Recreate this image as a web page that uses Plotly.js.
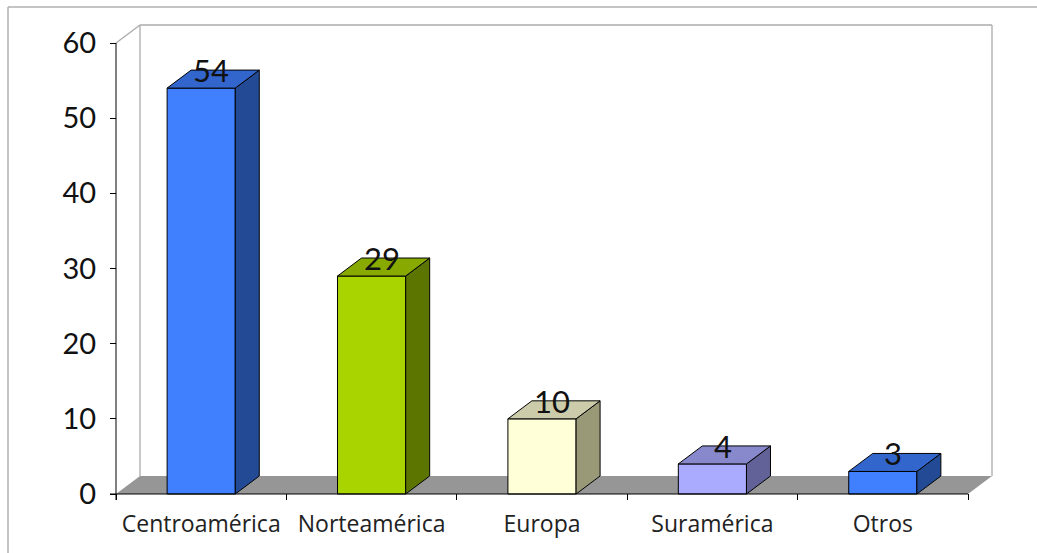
<!DOCTYPE html>
<html>
<head>
<meta charset="utf-8">
<script src="https://cdn.plot.ly/plotly-3.0.1.min.js"></script>
<style>html,body{margin:0;padding:0;background:#fff;}#chart{width:1037px;height:553px;}</style>
</head>
<body>
<div id="chart"></div>
<script>
// ---- data ----
const categories = ["Centroamérica", "Norteamérica", "Europa", "Suramérica", "Otros"];
const values = [54, 29, 10, 4, 3];
const yTickValues = [0, 10, 20, 30, 40, 50, 60];

// ---- styles ----
const frontColors = ["#4080FF", "#AAD400", "#FFFFD8", "#AAAAFF", "#4080FF"];
const sideColors  = ["#234A95", "#5C7400", "#999977", "#626299", "#234A95"];
const topColors   = ["#3366CC", "#88AA00", "#CCCCAA", "#8888CC", "#3366CC"];

// geometry (pixels -> data units)
const L = 100, R = 1000, T = 15, B = 500;         // plot area in px
const catPx = 170.4, unitPx = 7.5167;
const x0px = 116, y0px = 494;
const xStart = -0.5 - (x0px - L) / catPx;
const xEnd = xStart + (R - L) / catPx;
const yStart = -(B - y0px) / unitPx;
const yEnd = yStart + (B - T) / unitPx;
const dx = 24 / catPx, dy = 18 / unitPx, half = 0.2;
const yMax = 60;
const n = categories.length;

function poly(pts){ return "M" + pts.map(p => p[0] + "," + p[1]).join(" L") + " Z"; }

const shapes = [];
// floor
shapes.push({type:"path", xref:"x", yref:"y", layer:"below",
  path: poly([[-0.5,0],[n-0.5,0],[n-0.5+dx,dy],[-0.5+dx,dy]]),
  fillcolor:"#969696", line:{width:0}});
// back walls
const wall = {color:"#ABABAB", width:1.3};
shapes.push({type:"line", xref:"x", yref:"y", layer:"below", x0:-0.5+dx, y0:dy, x1:-0.5+dx, y1:yMax+dy, line:wall});
shapes.push({type:"line", xref:"x", yref:"y", layer:"below", x0:-0.5+dx, y0:yMax+dy, x1:n-0.5+dx, y1:yMax+dy, line:wall});
shapes.push({type:"line", xref:"x", yref:"y", layer:"below", x0:n-0.5+dx, y0:yMax+dy, x1:n-0.5+dx, y1:dy, line:wall});
shapes.push({type:"line", xref:"x", yref:"y", layer:"below", x0:-0.5, y0:yMax, x1:-0.5+dx, y1:yMax+dy, line:wall});
// axis lines
shapes.push({type:"line", xref:"x", yref:"y", layer:"above", x0:-0.5, y0:yStart, x1:-0.5, y1:yMax, line:{color:"#000", width:1}});
shapes.push({type:"line", xref:"x", yref:"y", layer:"above", x0:-0.5 - 6/catPx, y0:0, x1:n-0.5, y1:0, line:{color:"#000", width:1}});
// bar sides and tops
values.forEach((v, i) => {
  shapes.push({type:"path", xref:"x", yref:"y", layer:"above",
    path: poly([[i+half,0],[i+half+dx,dy],[i+half+dx,v+dy],[i+half,v]]),
    fillcolor: sideColors[i], line:{color:"#000", width:1}});
  shapes.push({type:"path", xref:"x", yref:"y", layer:"above",
    path: poly([[i-half,v],[i+half,v],[i+half+dx,v+dy],[i-half+dx,v+dy]]),
    fillcolor: topColors[i], line:{color:"#000", width:1}});
});
// outer border (top and left)
shapes.push({type:"line", xref:"paper", yref:"paper", x0:(8-L)/(R-L), y0:1+(T-7)/(B-T), x1:(1040-L)/(R-L), y1:1+(T-7)/(B-T), line:{color:"#B0B0B0", width:1.5}});
shapes.push({type:"line", xref:"paper", yref:"paper", x0:(8-L)/(R-L), y0:1+(T-7)/(B-T), x1:(8-L)/(R-L), y1:-(560-B)/(B-T), line:{color:"#B0B0B0", width:1.5}});

const annotations = values.map((v, i) => ({
  x: i + 0.06, y: v + dy, xref:"x", yref:"y", text: String(v), showarrow:false,
  xanchor:"center", yanchor:"middle", font:{family:"Lato, 'Open Sans', sans-serif", size:31, color:"#111"}
}));

const trace = {
  type:"bar", x: categories, y: values, width: 2*half,
  marker:{color: frontColors, line:{color:"#000", width:1}},
  hoverinfo:"x+y"
};

const layout = {
  width:1037, height:553,
  margin:{l:L, r:1037-R, t:T, b:553-B, pad:0},
  paper_bgcolor:"#fff", plot_bgcolor:"rgba(0,0,0,0)",
  showlegend:false,
  xaxis:{type:"category", range:[xStart, xEnd], tickson:"boundaries", ticks:"inside", ticklen:6,
    tickcolor:"#000", showline:false, showgrid:false, zeroline:false, fixedrange:true,
    tickfont:{family:"'Open Sans', Lato, sans-serif", size:23, color:"#222"}, ticklabelstandoff:8},
  yaxis:{range:[yStart, yEnd], anchor:"free", position:(x0px-L)/(R-L), tickvals:yTickValues,
    ticks:"outside", ticklen:6, tickcolor:"#000", showline:false, showgrid:false, zeroline:false,
    fixedrange:true, tickfont:{family:"Lato, 'Open Sans', sans-serif", size:29, color:"#111"}, ticklabelstandoff:8},
  shapes: shapes,
  annotations: annotations
};

Plotly.newPlot("chart", [trace], layout, {displayModeBar:false, staticPlot:true});
</script>
</body>
</html>
